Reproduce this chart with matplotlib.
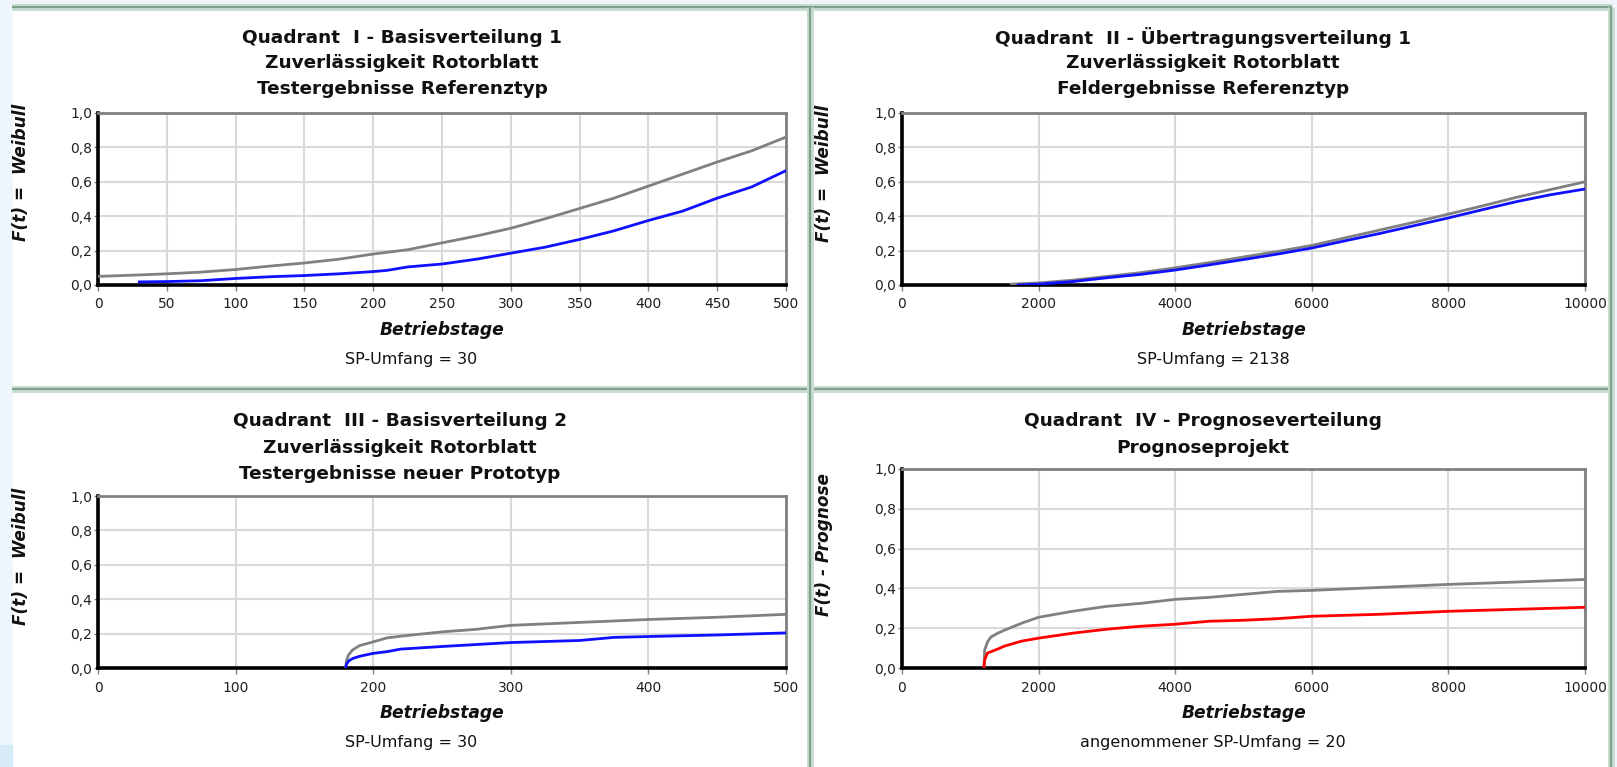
import matplotlib
matplotlib.use('Agg')
import matplotlib.pyplot as plt
from matplotlib.lines import Line2D
from matplotlib.patches import Rectangle
from matplotlib.ticker import FuncFormatter, MultipleLocator

W, H = 1617, 767

# ── Quadrant I: Basisverteilung 1 (Testergebnisse Referenztyp) ──────────────
q1_gray_x = [0, 25, 50, 75, 100, 125, 150, 175, 200, 225, 250, 275, 300, 325,
             350, 375, 400, 425, 450, 475, 500]
q1_gray_y = [0.050, 0.057, 0.065, 0.075, 0.090, 0.110, 0.128, 0.150, 0.180,
             0.205, 0.245, 0.285, 0.330, 0.385, 0.445, 0.505, 0.575, 0.645,
             0.715, 0.780, 0.860]
q1_blue_x = [30, 50, 75, 100, 125, 150, 175, 200, 210, 225, 250, 275, 300, 325,
             350, 375, 400, 425, 450, 475, 500]
q1_blue_y = [0.018, 0.020, 0.025, 0.038, 0.048, 0.055, 0.065, 0.078, 0.085,
             0.105, 0.122, 0.150, 0.185, 0.220, 0.265, 0.315, 0.375, 0.430,
             0.505, 0.570, 0.665]

# ── Quadrant II: Übertragungsverteilung 1 (Feldergebnisse) ──────────────────
q2_gray_x = [1600, 2000, 2500, 3000, 3500, 4000, 4500, 5000, 5500, 6000, 6500,
             7000, 7500, 8000, 8500, 9000, 9500, 10000]
q2_gray_y = [0.005, 0.012, 0.028, 0.050, 0.072, 0.100, 0.130, 0.163, 0.195,
             0.230, 0.275, 0.320, 0.365, 0.412, 0.460, 0.510, 0.555, 0.600]
q2_blue_x = [1700, 2000, 2500, 3000, 3500, 4000, 4500, 5000, 5500, 6000, 6500,
             7000, 7500, 8000, 8500, 9000, 9500, 10000]
q2_blue_y = [0.000, 0.005, 0.020, 0.042, 0.062, 0.087, 0.117, 0.148, 0.180,
             0.215, 0.258, 0.300, 0.345, 0.390, 0.438, 0.485, 0.525, 0.558]

# ── Quadrant III: Basisverteilung 2 (neuer Prototyp) ─────────────────────────
q3_gray_x = [180, 180.5, 182, 185, 190, 200, 210, 220, 250, 275, 300, 350, 400,
             450, 500]
q3_gray_y = [0.0, 0.040, 0.075, 0.105, 0.130, 0.152, 0.175, 0.185, 0.210,
             0.225, 0.248, 0.265, 0.282, 0.295, 0.312]
q3_blue_x = [180, 180.5, 182, 185, 190, 200, 210, 220, 250, 300, 350, 375, 400,
             450, 500]
q3_blue_y = [0.0, 0.020, 0.040, 0.055, 0.068, 0.085, 0.095, 0.110, 0.125,
             0.148, 0.160, 0.178, 0.183, 0.192, 0.204]

# ── Quadrant IV: Prognoseverteilung ──────────────────────────────────────────
q4_gray_x = [1200, 1210, 1250, 1300, 1400, 1500, 1750, 2000, 2500, 3000, 3500,
             4000, 4500, 5000, 5500, 6000, 7000, 8000, 9000, 10000]
q4_gray_y = [0.0, 0.090, 0.130, 0.155, 0.175, 0.190, 0.225, 0.255, 0.285,
             0.310, 0.325, 0.345, 0.355, 0.370, 0.385, 0.390, 0.405, 0.420,
             0.432, 0.445]
q4_red_x = [1200, 1210, 1250, 1400, 1500, 1750, 2000, 2500, 3000, 3500, 4000,
            4500, 5000, 5500, 6000, 7000, 8000, 9000, 10000]
q4_red_y = [0.0, 0.040, 0.075, 0.095, 0.110, 0.135, 0.150, 0.175, 0.195, 0.210,
            0.220, 0.235, 0.240, 0.248, 0.260, 0.270, 0.285, 0.295, 0.305]

TITLES = [
    ["Quadrant  I - Basisverteilung 1", "Zuverlässigkeit Rotorblatt",
     "Testergebnisse Referenztyp"],
    ["Quadrant  II - Übertragungsverteilung 1", "Zuverlässigkeit Rotorblatt",
     "Feldergebnisse Referenztyp"],
    ["Quadrant  III - Basisverteilung 2", "Zuverlässigkeit Rotorblatt",
     "Testergebnisse neuer Prototyp"],
    ["Quadrant  IV - Prognoseverteilung", "Prognoseprojekt"],
]
YLABELS = ["F(t) =  Weibull", "F(t) =  Weibull", "F(t) =  Weibull", "F(t) - Prognose"]
FOOTERS = ["SP-Umfang = 30", "SP-Umfang = 2138", "SP-Umfang = 30",
           "angenommener SP-Umfang = 20"]
XMAX = [500, 10000, 500, 10000]
XSTEP = [50, 2000, 100, 2000]

GRAY = '#808080'
BLUE = '#1010ff'
RED = '#ff0000'


def fx(px):
    return px / W


def fy(py):
    return 1 - py / H


fig = plt.figure(figsize=(W / 100, H / 100), dpi=100)
fig.patch.set_facecolor('white')

# light-blue strips of the application window around the panels
fig.add_artist(Rectangle((0, 0), fx(12), 1, transform=fig.transFigure,
                         color='#eef6fb', zorder=0))
fig.add_artist(Rectangle((0, 0), fx(12), fy(745), transform=fig.transFigure,
                         color='#d6eaf8', zorder=0))
fig.add_artist(Rectangle((fx(1614), 0), 1 - fx(1614), 1, transform=fig.transFigure,
                         color='#eef6fb', zorder=0))
fig.add_artist(Rectangle((fx(12), fy(5)), 1, 1 - fy(5), transform=fig.transFigure,
                         color='#eef6fb', zorder=0))


def frame_line(x0, y0, x1, y1):
    for lw, c in [(5, '#c9ddd0'), (1.6, '#7fa08b')]:
        fig.add_artist(Line2D([fx(x0), fx(x1)], [fy(y0), fy(y1)],
                              transform=fig.transFigure, color=c, lw=lw,
                              solid_capstyle='butt', zorder=1))


frame_line(12, 7, 1612, 7)          # top
frame_line(12, 389, 1612, 389)      # horizontal separator
frame_line(810, 7, 810, 767)        # vertical separator
frame_line(1611, 7, 1611, 767)      # right edge

# axes rectangles in pixels: left, right, top, bottom
boxes = [(98, 786, 113, 285), (902, 1585, 113, 285),
         (98, 786, 496, 668), (902, 1585, 469, 668)]
title_x = [402, 1203, 400, 1203]
title_y = [[38, 63, 89], [38, 63, 89], [421, 448, 474], [421, 448]]
xlabel_pos = [(442, 330), (1244, 330), (442, 713), (1244, 713)]
footer_pos = [(411, 360), (1213, 360), (411, 743), (1213, 743)]
ylabel_pos = [(21, 172), (824, 173), (21, 556), (824, 544)]

series = [
    [(q1_gray_x, q1_gray_y, GRAY), (q1_blue_x, q1_blue_y, BLUE)],
    [(q2_gray_x, q2_gray_y, GRAY), (q2_blue_x, q2_blue_y, BLUE)],
    [(q3_gray_x, q3_gray_y, GRAY), (q3_blue_x, q3_blue_y, BLUE)],
    [(q4_gray_x, q4_gray_y, GRAY), (q4_red_x, q4_red_y, RED)],
]

comma = FuncFormatter(lambda v, _: f"{v:.1f}".replace('.', ','))

for i in range(4):
    l, r, t, b = boxes[i]
    ax = fig.add_axes([fx(l), fy(b), fx(r - l), fy(t) - fy(b)])
    for xs, ys, c in series[i]:
        ax.plot(xs, ys, color=c, lw=2.0, zorder=3)
    ax.set_xlim(0, XMAX[i])
    ax.set_ylim(0, 1.0)
    ax.xaxis.set_major_locator(MultipleLocator(XSTEP[i]))
    ax.yaxis.set_major_locator(MultipleLocator(0.2))
    ax.yaxis.set_major_formatter(comma)
    ax.grid(True, color='#d9d9d9', lw=1.5, zorder=0)
    ax.set_axisbelow(True)
    for side in ['left', 'bottom']:
        ax.spines[side].set_color('black')
        ax.spines[side].set_linewidth(2.6)
    for side in ['top', 'right']:
        ax.spines[side].set_color(GRAY)
        ax.spines[side].set_linewidth(2.0)
    ax.tick_params(axis='x', length=4, width=1, color=GRAY, pad=5,
                   labelsize=10, labelcolor='#202020')
    ax.tick_params(axis='y', length=3, width=1, color=GRAY, pad=1,
                   labelsize=10, labelcolor='#202020')

    # title lines, one by one
    for line, ly in zip(TITLES[i], title_y[i]):
        fig.text(fx(title_x[i]), fy(ly), line, ha='center', va='center',
                 fontsize=13.3, fontweight='bold', color='#111111')
    xx, xy = xlabel_pos[i]
    fig.text(fx(xx), fy(xy), "Betriebstage", ha='center', va='center',
             fontsize=12.3, fontweight='bold', fontstyle='italic', color='#111111')
    sx, sy = footer_pos[i]
    fig.text(fx(sx), fy(sy), FOOTERS[i], ha='center', va='center',
             fontsize=11.5, color='#111111')
    yx, yy = ylabel_pos[i]
    fig.text(fx(yx), fy(yy), YLABELS[i], ha='center', va='center', rotation=90,
             fontsize=12.2, fontweight='bold', fontstyle='italic', color='#111111')

fig.savefig('out.png', dpi=100, facecolor='white')
